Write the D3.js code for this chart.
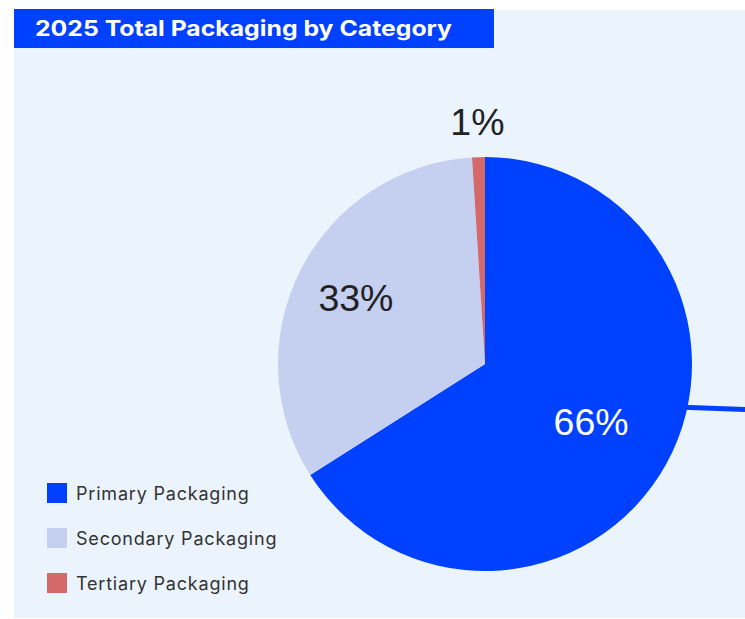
<!DOCTYPE html>
<html>
<head>
<meta charset="utf-8">
<script src="https://cdn.jsdelivr.net/npm/d3@7"></script>
<style>
  html, body { margin: 0; padding: 0; background: #ffffff; }
  svg { display: block; }
</style>
</head>
<body>
<svg id="chart" width="745" height="619"></svg>
<script>
// Packaging share by category, 2025
const categories = ["Primary Packaging", "Secondary Packaging", "Tertiary Packaging"];
const shares = [66, 33, 1];
const labels = ["66%", "33%", "1%"];
const colors = ["#0040ff", "#c5cff0", "#d4696a"];
const titleText = "2025 Total Packaging by Category";

const W = 745, H = 619;
const svg = d3.select("#chart");

// panel background
svg.append("rect")
  .attr("x", 14).attr("y", 10)
  .attr("width", W - 14).attr("height", H - 11)
  .attr("fill", "#ebf4fc");

// title bar
svg.append("rect")
  .attr("x", 14).attr("y", 9)
  .attr("width", 480).attr("height", 39)
  .attr("fill", "#0040ff");
svg.append("text")
  .attr("x", 35).attr("y", 36)
  .attr("font-family", "Inter, 'Open Sans', sans-serif")
  .attr("font-weight", 700)
  .attr("font-size", 21.5)
  .attr("fill", "#ffffff")
  .attr("textLength", 417)
  .attr("lengthAdjust", "spacingAndGlyphs")
  .text(titleText);

// pie
const cx = 485, cy = 364, R = 207;
const g = svg.append("g").attr("transform", `translate(${cx},${cy})`);

const pie = d3.pie().sort(null).value(d => d)(shares);
const arc = d3.arc().innerRadius(0).outerRadius(R);

// connector leaving the primary slice toward the right edge
const connAngle = Math.PI - Math.acos(44 / R);
const cStart = [Math.sin(connAngle) * (R - 4), -Math.cos(connAngle) * (R - 4)];
g.append("line")
  .attr("x1", cStart[0]).attr("y1", cStart[1])
  .attr("x2", W - cx + 2).attr("y2", cStart[1] + 2.5)
  .attr("stroke", "#0040ff")
  .attr("stroke-width", 5);

g.selectAll("path.slice")
  .data(pie)
  .join("path")
  .attr("class", "slice")
  .attr("d", arc)
  .attr("fill", (d, i) => colors[i]);

// value labels, placed along each slice's bisector
const labelRadius = [0.585, 0.70, 1.17];
const labelColor = ["#ffffff", "#222222", "#222222"];
const labelPos = (d, i) => d3.arc()
  .innerRadius(R * labelRadius[i]).outerRadius(R * labelRadius[i]).centroid(d);
g.selectAll("text.val")
  .data(pie)
  .join("text")
  .attr("class", "val")
  .attr("x", (d, i) => labelPos(d, i)[0])
  .attr("y", (d, i) => labelPos(d, i)[1])
  .attr("text-anchor", "middle")
  .attr("dominant-baseline", "central")
  .attr("font-family", "'Liberation Sans', Arial, sans-serif")
  .attr("font-size", 37.5)
  .attr("fill", (d, i) => labelColor[i])
  .text((d, i) => labels[i]);

// legend
const legend = svg.append("g").attr("transform", "translate(47,483)");
const rowY = d3.scalePoint().domain(categories).range([0, 90]);
const item = legend.selectAll("g.item")
  .data(categories)
  .join("g")
  .attr("class", "item")
  .attr("transform", d => `translate(0,${rowY(d)})`);
item.append("rect")
  .attr("width", 20).attr("height", 20)
  .attr("fill", (d, i) => colors[i]);
item.append("text")
  .attr("x", 29).attr("y", 10.5)
  .attr("dominant-baseline", "central")
  .attr("font-family", "Inter, 'Open Sans', sans-serif")
  .attr("font-size", 18)
  .attr("letter-spacing", 0.8)
  .attr("fill", "#333333")
  .text(d => d);
</script>
</body>
</html>
